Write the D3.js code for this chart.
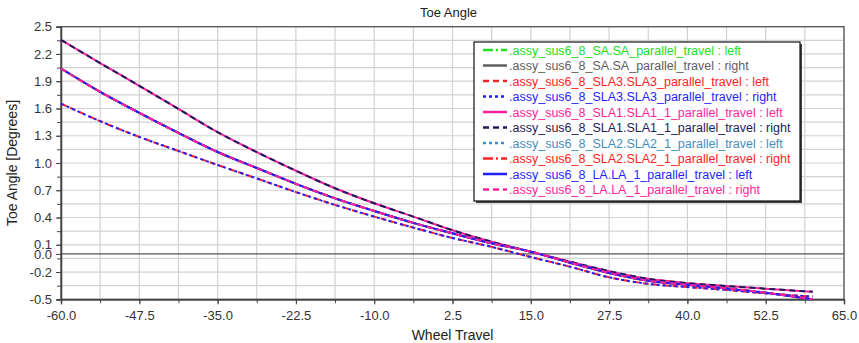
<!DOCTYPE html>
<html>
<head>
<meta charset="utf-8">
<script src="https://cdn.jsdelivr.net/npm/d3@7"></script>
<style>
  html, body { margin: 0; padding: 0; background: #fff; }
  svg text { font-family: "Liberation Sans", Arial, sans-serif; }
</style>
</head>
<body>
<svg id="chart" width="859" height="343"></svg>
<script>
// Wheel travel stations (mm) at which toe is sampled
const wheelTravel = [-60, -53.75, -47.5, -41.25, -35, -28.75, -22.5, -16.25, -10, -3.75,
  2.5, 8.75, 15, 21.25, 27.5, 33.75, 40, 46.25, 52.5, 60];

// Toe angle curves (degrees)
const toeSLA1 = [2.355, 2.10, 1.85, 1.595, 1.34, 1.12, 0.915, 0.722, 0.557, 0.41,
  0.26, 0.134, 0.024, -0.086, -0.19, -0.275, -0.322, -0.354, -0.383, -0.418];
const toeLA = [2.04, 1.783, 1.552, 1.331, 1.121, 0.945, 0.771, 0.611, 0.472, 0.341,
  0.226, 0.116, 0.024, -0.097, -0.21, -0.295, -0.34, -0.38, -0.427, -0.50];
const toeSLA3 = [1.654, 1.46, 1.287, 1.132, 0.978, 0.83, 0.68, 0.539, 0.41, 0.289,
  0.175, 0.077, -0.035, -0.141, -0.258, -0.33, -0.365, -0.397, -0.434, -0.47];

const seriesLabels = [
  ".assy_sus6_8_SA.SA_parallel_travel : left",
  ".assy_sus6_8_SA.SA_parallel_travel : right",
  ".assy_sus6_8_SLA3.SLA3_parallel_travel : left",
  ".assy_sus6_8_SLA3.SLA3_parallel_travel : right",
  ".assy_sus6_8_SLA1.SLA1_1_parallel_travel : left",
  ".assy_sus6_8_SLA1.SLA1_1_parallel_travel : right",
  ".assy_sus6_8_SLA2.SLA2_1_parallel_travel : left",
  ".assy_sus6_8_SLA2.SLA2_1_parallel_travel : right",
  ".assy_sus6_8_LA.LA_1_parallel_travel : left",
  ".assy_sus6_8_LA.LA_1_parallel_travel : right"
];
const seriesValues = [toeLA, toeLA, toeSLA3, toeSLA3, toeSLA1, toeSLA1, toeLA, toeLA, toeLA, toeLA];

const yTickValues = [2.5, 2.2, 1.9, 1.6, 1.3, 1.0, 0.7, 0.4, 0.1, 0.0, -0.2, -0.5];
const xTickValues = [-60, -47.5, -35, -22.5, -10, 2.5, 15, 27.5, 40, 52.5, 65];

// Line styles, in legend order
const styles = [
  { color: "#22e022", dash: "10,3,2,3" },
  { color: "#606060", dash: null },
  { color: "#ff2222", dash: "6,4" },
  { color: "#1f1fff", dash: "3,3" },
  { color: "#ff1f9a", dash: null },
  { color: "#1c1c5c", dash: "6,4" },
  { color: "#3f8fc0", dash: "3,3" },
  { color: "#ff2222", dash: "10,3,2,3" },
  { color: "#1f1fff", dash: null },
  { color: "#ff1f9a", dash: "6,4" }
];

const svg = d3.select("#chart");
const plot = { left: 61, right: 844, top: 26.7, bottom: 299.3 };

const x = d3.scaleLinear().domain([-60, 65]).range([plot.left, plot.right]);
const y = d3.scaleLinear().domain([-0.5, 2.5]).range([plot.bottom, plot.top]);

// grid
const xGrid = d3.range(-60, 65.01, 6.25);
const yGrid = d3.range(0, 21).map(i => -0.5 + i * 0.15);
const grid = svg.append("g");
grid.selectAll("line.v").data(xGrid).join("line")
  .attr("x1", d => x(d)).attr("x2", d => x(d))
  .attr("y1", plot.top).attr("y2", plot.bottom)
  .attr("stroke", "#d2d2d2").attr("stroke-width", 1.2);
grid.selectAll("line.h").data(yGrid).join("line")
  .attr("x1", plot.left).attr("x2", plot.right)
  .attr("y1", d => y(d)).attr("y2", d => y(d))
  .attr("stroke", "#d2d2d2").attr("stroke-width", 1.2);
// zero line
svg.append("line")
  .attr("x1", plot.left).attr("x2", plot.right)
  .attr("y1", y(0)).attr("y2", y(0))
  .attr("stroke", "#555").attr("stroke-width", 1.3);

// frame
svg.append("rect")
  .attr("x", plot.left).attr("y", plot.top)
  .attr("width", plot.right - plot.left).attr("height", plot.bottom - plot.top)
  .attr("fill", "none").attr("stroke", "#555").attr("stroke-width", 1.3);

// axes (one decimal, plain hyphen for negatives)
const fmt = v => d3.format(".1f")(v).replace("\u2212", "-");
const xAxis = svg.append("g").attr("transform", `translate(0,${plot.bottom})`)
  .call(d3.axisBottom(x).tickValues(xTickValues).tickFormat(fmt).tickSize(5).tickPadding(6));
const xMinor = svg.append("g").attr("transform", `translate(0,${plot.bottom})`)
  .call(d3.axisBottom(x).tickValues(xGrid).tickFormat("").tickSize(4));
const yAxis = svg.append("g").attr("transform", `translate(${plot.left},0)`)
  .call(d3.axisLeft(y).tickValues(yTickValues).tickFormat(fmt).tickSize(5).tickPadding(4));
const yMinor = svg.append("g").attr("transform", `translate(${plot.left},0)`)
  .call(d3.axisLeft(y).tickValues(yGrid).tickFormat("").tickSize(4));
[xAxis, xMinor, yAxis, yMinor].forEach(g => {
  g.select(".domain").attr("stroke", "#444").attr("stroke-width", 1.3);
  g.selectAll(".tick line").attr("stroke", "#444");
  g.selectAll("text").attr("fill", "#333").style("font-size", "13px")
    .style("font-family", "'Liberation Sans', Arial, sans-serif");
});

// curves
const line = d3.line().x(d => x(d[0])).y(d => y(d[1])).curve(d3.curveMonotoneX);
seriesValues.forEach((vals, i) => {
  const pts = wheelTravel.map((t, k) => [t, vals[k]]);
  svg.append("path").datum(pts)
    .attr("d", line)
    .attr("fill", "none")
    .attr("stroke", styles[i].color)
    .attr("stroke-width", 2)
    .attr("stroke-dasharray", styles[i].dash);
});

// legend
const lg = { x: 474, y: 42, w: 326, h: 159, row0: 50, rowH: 15.5 };
svg.append("rect").attr("x", lg.x + 2).attr("y", lg.y + 2).attr("width", lg.w).attr("height", lg.h)
  .attr("fill", "#444");
svg.append("rect").attr("x", lg.x).attr("y", lg.y).attr("width", lg.w).attr("height", lg.h)
  .attr("fill", "#fff").attr("stroke", "#111").attr("stroke-width", 1.2);
seriesLabels.forEach((label, i) => {
  const cy = lg.row0 + i * lg.rowH;
  svg.append("line")
    .attr("x1", lg.x + 9).attr("x2", lg.x + 33)
    .attr("y1", cy).attr("y2", cy)
    .attr("stroke", styles[i].color).attr("stroke-width", 2.5)
    .attr("stroke-dasharray", styles[i].dash);
  svg.append("text")
    .attr("x", lg.x + 35).attr("y", cy + 4.5)
    .attr("fill", styles[i].color)
    .style("font-size", "12.5px")
    .text(label);
});

// titles
svg.append("text").attr("x", (plot.left + plot.right) / 2 - 4).attr("y", 17)
  .attr("text-anchor", "middle").attr("fill", "#222").style("font-size", "13px").text("Toe Angle");
svg.append("text").attr("x", (plot.left + plot.right) / 2).attr("y", 340)
  .attr("text-anchor", "middle").attr("fill", "#222").style("font-size", "14px").text("Wheel Travel");
svg.append("text")
  .attr("transform", `translate(17,${(plot.top + plot.bottom) / 2}) rotate(-90)`)
  .attr("text-anchor", "middle").attr("fill", "#222").style("font-size", "14px")
  .text("Toe Angle [Degrees]");
</script>
</body>
</html>
